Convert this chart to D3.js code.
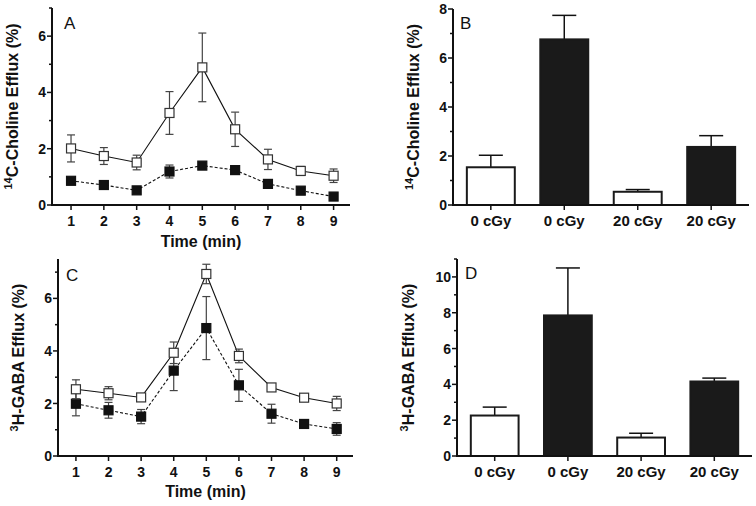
<!DOCTYPE html>
<html>
<head>
<meta charset="utf-8">
<script src="https://cdn.jsdelivr.net/npm/d3@7"></script>
<style>
  body { margin: 0; background: #fff; }
  svg { display: block; font-family: Arial, "Liberation Sans", sans-serif; }
</style>
</head>
<body>
<svg id="chart" width="756" height="506"></svg>
<script>
// time points (min)
const times = [1, 2, 3, 4, 5, 6, 7, 8, 9];

// panel A, choline efflux
const cholineOpen = [2.01, 1.74, 1.51, 3.27, 4.89, 2.69, 1.62, 1.21, 1.04];
const cholineOpenErr = [0.48, 0.30, 0.26, 0.76, 1.22, 0.61, 0.36, 0.16, 0.24];
const cholineFilled = [0.86, 0.71, 0.52, 1.19, 1.40, 1.24, 0.75, 0.51, 0.30];
const cholineFilledErr = [0.07, 0.05, 0.05, 0.23, 0.08, 0.14, 0.06, 0.05, 0.05];

// panel C, GABA efflux
const gabaOpen = [2.54, 2.39, 2.23, 3.93, 6.93, 3.81, 2.61, 2.22, 2.00];
const gabaOpenErr = [0.36, 0.25, 0.13, 0.41, 0.37, 0.26, 0.07, 0.06, 0.27];
const gabaFilled = [1.99, 1.74, 1.50, 3.25, 4.87, 2.69, 1.61, 1.22, 1.03];
const gabaFilledErr = [0.46, 0.30, 0.27, 0.76, 1.20, 0.61, 0.36, 0.16, 0.24];

// panels B and D, bars
const doseLabels = ['0 cGy', '0 cGy', '20 cGy', '20 cGy'];
const barFilled = [false, true, false, true];
const cholineBars = [1.54, 6.76, 0.54, 2.37];
const cholineBarsErr = [0.49, 0.98, 0.09, 0.46];
const gabaBars = [2.26, 7.85, 1.03, 4.16];
const gabaBarsErr = [0.47, 2.65, 0.24, 0.19];

const svg = d3.select('#chart');
const BLACK = '#111';

// y axis with major labelled ticks and minor ticks in between
function drawYAxis(g, y, x0, majors, minors, title, sup, titleX){
	g.append('line')
		.attr('x1', x0).attr('x2', x0)
		.attr('y1', y.range()[0] + 1).attr('y2', y.range()[1])
		.attr('stroke', BLACK).attr('stroke-width', 2);
	g.selectAll('.maj').data(majors).join('line')
		.attr('x1', x0 - 5).attr('x2', x0)
		.attr('y1', d => y(d)).attr('y2', d => y(d))
		.attr('stroke', BLACK).attr('stroke-width', 1.5);
	g.selectAll('.min').data(minors).join('line')
		.attr('x1', x0 - 3).attr('x2', x0)
		.attr('y1', d => y(d)).attr('y2', d => y(d))
		.attr('stroke', BLACK).attr('stroke-width', 1.5);
	g.selectAll('.lab').data(majors).join('text')
		.attr('x', x0 - 6).attr('y', d => y(d))
		.attr('dy', '0.36em')
		.attr('text-anchor', 'end')
		.attr('font-size', 14).attr('font-weight', 'bold')
		.attr('fill', BLACK)
		.text(d => d);
	const cy = (y.range()[0] + y.range()[1]) / 2;
	const t = g.append('text')
		.attr('transform', `translate(${titleX},${cy}) rotate(-90)`)
		.attr('text-anchor', 'middle')
		.attr('font-size', 16).attr('font-weight', 'bold')
		.attr('fill', BLACK);
	t.append('tspan').attr('font-size', 11).attr('dy', -6).text(sup);
	t.append('tspan').attr('dy', 6).text(title);
}

function drawLinePanel({x0, x1, yBottom, yTop, yMax, majors, minors, xDomain, series, title, sup, titleX, letter, letterPos, xTitleY}){
	const g = svg.append('g');
	const x = d3.scaleLinear().domain(xDomain).range([x0, x1]);
	const y = d3.scaleLinear().domain([0, yMax]).range([yBottom, yTop]);

	// x axis
	g.append('line')
		.attr('x1', x0 - 1).attr('x2', x1)
		.attr('y1', yBottom).attr('y2', yBottom)
		.attr('stroke', BLACK).attr('stroke-width', 2);
	g.selectAll('.xt').data(times).join('line')
		.attr('x1', d => x(d)).attr('x2', d => x(d))
		.attr('y1', yBottom).attr('y2', yBottom + 5)
		.attr('stroke', BLACK).attr('stroke-width', 1.5);
	g.selectAll('.xl').data(times).join('text')
		.attr('x', d => x(d)).attr('y', yBottom + 20.5)
		.attr('text-anchor', 'middle')
		.attr('font-size', 14).attr('font-weight', 'bold')
		.attr('fill', BLACK)
		.text(d => d);
	g.append('text')
		.attr('x', (x0 + x1) / 2).attr('y', xTitleY)
		.attr('text-anchor', 'middle')
		.attr('font-size', 16).attr('font-weight', 'bold')
		.attr('fill', BLACK)
		.text('Time (min)');

	drawYAxis(g, y, x0, majors, minors, title, sup, titleX);

	series.forEach(s => {
		const pts = times.map((t, i) => ({t, v: s.values[i], e: s.err[i]}));
		const line = d3.line().x(d => x(d.t)).y(d => y(d.v));
		g.append('path').datum(pts)
			.attr('d', line)
			.attr('fill', 'none')
			.attr('stroke', BLACK)
			.attr('stroke-width', 1.1)
			.attr('stroke-dasharray', s.filled ? '3,2' : null);
		const eb = g.append('g').attr('stroke', '#444').attr('stroke-width', 1.2);
		eb.selectAll('.v').data(pts).join('line')
			.attr('x1', d => x(d.t)).attr('x2', d => x(d.t))
			.attr('y1', d => y(d.v - d.e)).attr('y2', d => y(d.v + d.e));
		eb.selectAll('.ct').data(pts).join('line')
			.attr('x1', d => x(d.t) - 4).attr('x2', d => x(d.t) + 4)
			.attr('y1', d => y(d.v + d.e)).attr('y2', d => y(d.v + d.e));
		eb.selectAll('.cb').data(pts).join('line')
			.attr('x1', d => x(d.t) - 4).attr('x2', d => x(d.t) + 4)
			.attr('y1', d => y(d.v - d.e)).attr('y2', d => y(d.v - d.e));
		g.selectAll(null).data(pts).join('rect')
			.attr('x', d => x(d.t) - 4.5).attr('y', d => y(d.v) - 4.5)
			.attr('width', 9).attr('height', 9)
			.attr('fill', s.filled ? BLACK : '#fff')
			.attr('stroke', s.filled ? BLACK : '#333')
			.attr('stroke-width', 1.2);
	});

	g.append('text')
		.attr('x', letterPos[0]).attr('y', letterPos[1])
		.attr('font-size', 17).attr('fill', BLACK)
		.text(letter);
}

function drawBarPanel({x0, x1, yBottom, yTop, yMax, majors, minors, values, err, title, sup, titleX, letter, letterPos}){
	const g = svg.append('g');
	const x = d3.scaleBand().domain(d3.range(values.length)).range([x0, x1])
		.paddingInner(0.32).paddingOuter(0.175);
	const y = d3.scaleLinear().domain([0, yMax]).range([yBottom, yTop]);
	const rows = values.map((v, i) => ({i, v, e: err[i], filled: barFilled[i], label: doseLabels[i]}));

	// error bars (upper only)
	g.selectAll('.ev').data(rows).join('line')
		.attr('x1', d => x(d.i) + x.bandwidth() / 2).attr('x2', d => x(d.i) + x.bandwidth() / 2)
		.attr('y1', d => y(d.v)).attr('y2', d => y(d.v + d.e))
		.attr('stroke', BLACK).attr('stroke-width', 1.5);
	g.selectAll('.ec').data(rows).join('line')
		.attr('x1', d => x(d.i) + x.bandwidth() / 2 - 12).attr('x2', d => x(d.i) + x.bandwidth() / 2 + 12)
		.attr('y1', d => y(d.v + d.e)).attr('y2', d => y(d.v + d.e))
		.attr('stroke', BLACK).attr('stroke-width', 1.5);

	g.selectAll('.bar').data(rows).join('rect')
		.attr('x', d => x(d.i) + 1).attr('width', x.bandwidth() - 2)
		.attr('y', d => y(d.v)).attr('height', d => yBottom - y(d.v))
		.attr('fill', d => d.filled ? '#1a1a1a' : '#fff')
		.attr('stroke', '#1a1a1a').attr('stroke-width', 2);

	// x axis
	g.append('line')
		.attr('x1', x0 - 1).attr('x2', x1)
		.attr('y1', yBottom).attr('y2', yBottom)
		.attr('stroke', BLACK).attr('stroke-width', 2);
	g.selectAll('.xt').data(rows).join('line')
		.attr('x1', d => x(d.i) + x.bandwidth() / 2).attr('x2', d => x(d.i) + x.bandwidth() / 2)
		.attr('y1', yBottom).attr('y2', yBottom + 5)
		.attr('stroke', BLACK).attr('stroke-width', 1.5);
	g.selectAll('.xl').data(rows).join('text')
		.attr('x', d => x(d.i) + x.bandwidth() / 2).attr('y', yBottom + 21)
		.attr('text-anchor', 'middle')
		.attr('font-size', 15).attr('font-weight', 'bold')
		.attr('fill', BLACK)
		.text(d => d.label);

	drawYAxis(g, y, x0, majors, minors, title, sup, titleX);

	g.append('text')
		.attr('x', letterPos[0]).attr('y', letterPos[1])
		.attr('font-size', 17).attr('fill', BLACK)
		.text(letter);
}

drawLinePanel({
	x0: 52, x1: 350, yBottom: 205, yTop: 8, yMax: 7,
	majors: [0, 2, 4, 6], minors: [1, 3, 5, 7],
	xDomain: [0.42, 9.5],
	series: [
		{values: cholineFilled, err: cholineFilledErr, filled: true},
		{values: cholineOpen, err: cholineOpenErr, filled: false}
	],
	title: 'C-Choline Efflux (%)', sup: '14', titleX: 18,
	letter: 'A', letterPos: [64, 29], xTitleY: 247
});

drawBarPanel({
	x0: 453, x1: 749, yBottom: 205, yTop: 9, yMax: 8,
	majors: [0, 2, 4, 6, 8], minors: [1, 3, 5, 7],
	values: cholineBars, err: cholineBarsErr,
	title: 'C-Choline Efflux (%)', sup: '14', titleX: 419,
	letter: 'B', letterPos: [460, 29]
});

drawLinePanel({
	x0: 58, x1: 353, yBottom: 456, yTop: 259, yMax: 7.5,
	majors: [0, 2, 4, 6], minors: [1, 3, 5, 7],
	xDomain: [0.45, 9.5],
	series: [
		{values: gabaFilled, err: gabaFilledErr, filled: true},
		{values: gabaOpen, err: gabaOpenErr, filled: false}
	],
	title: 'H-GABA Efflux (%)', sup: '3', titleX: 24,
	letter: 'C', letterPos: [66, 281], xTitleY: 497
});

drawBarPanel({
	x0: 457, x1: 752, yBottom: 456, yTop: 259, yMax: 11,
	majors: [0, 2, 4, 6, 8, 10], minors: [1, 3, 5, 7, 9, 11],
	values: gabaBars, err: gabaBarsErr,
	title: 'H-GABA Efflux (%)', sup: '3', titleX: 414,
	letter: 'D', letterPos: [465, 279]
});
</script>
</body>
</html>
